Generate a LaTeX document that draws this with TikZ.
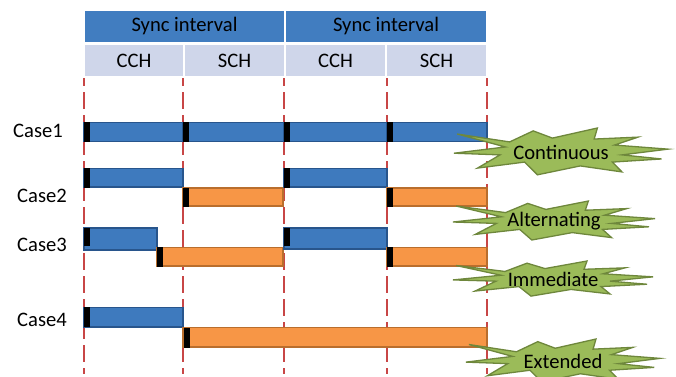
\documentclass[tikz,border=0pt]{standalone}
\usepackage{fontspec}
\setmainfont{Carlito}
\definecolor{hdrblue}{RGB}{65,125,192}
\definecolor{hdrlight}{RGB}{207,214,234}
\definecolor{barblue}{RGB}{62,122,190}
\definecolor{barblueedge}{RGB}{40,85,140}
\definecolor{barorange}{RGB}{247,150,70}
\definecolor{barorangeedge}{RGB}{185,110,45}
\definecolor{dashred}{RGB}{200,70,70}
\definecolor{stargreen}{RGB}{155,187,89}
\definecolor{staredge}{RGB}{110,135,60}
\newcommand{\myexplosion}[6]{%
  \begin{scope}[shift={(#1,#2)}]
    \draw[starshape] (-0.97*#3,-0.75*#4) -- (-0.48*#3,-0.42*#4) -- (-0.26*#3,-0.88*#4) -- (-0.08*#3,-0.58*#4)
      -- (0.34*#3,-1.0*#4) -- (0.31*#3,-0.54*#4) -- (0.72*#3,-0.62*#4) -- (0.50*#3,-0.29*#4)
      -- (1.0*#3,-0.12*#4) -- (0.57*#3,0.12*#4) -- (0.94*#3,0.29*#4) -- (0.48*#3,0.42*#4)
      -- (0.57*#3,0.83*#4) -- (0.18*#3,0.58*#4) -- (-0.22*#3,0.95*#4) -- (-0.34*#3,0.42*#4)
      -- (-0.78*#3,0.67*#4) -- (-0.57*#3,0.12*#4) -- (-1.0*#3,0.05*#4) -- (-0.52*#3,-0.21*#4) -- cycle;
    \node[txt] (#5) at (0,0) {#6};
  \end{scope}}
\begin{document}
\begin{tikzpicture}[x=1pt,y=-1pt,
  txt/.style={font=\fontsize{20.6}{24}\selectfont, inner sep=0pt},
  hdrcell/.style={fill=hdrblue, draw=white, line width=1.5pt},
  subcell/.style={fill=hdrlight, draw=white, line width=1.5pt},
  bluebar/.style={fill=barblue, draw=barblueedge, line width=1.5pt},
  orangebar/.style={fill=barorange, draw=barorangeedge, line width=1.5pt},
  marker/.style={fill=black},
  slotline/.style={draw=dashred, line width=2pt, dash pattern=on 17pt off 6pt},
  starshape/.style={fill=stargreen, draw=staredge, line width=1.3pt, line join=miter}]
\useasboundingbox (0,0) rectangle (676,376);
% dashed slot lines
\foreach \xx in {84,183,284,387,487}{
  \draw[slotline] (\xx,46) -- (\xx,374);
}
% header
\draw[hdrcell] (84,10) rectangle (285,43);
\draw[hdrcell] (285,10) rectangle (487,43);
\node[txt, text=black] (sync1) at (184.5,26) {Sync interval};
\node[txt, text=black] (sync2) at (386,26) {Sync interval};
\draw[subcell] (84,44) rectangle (184,77);
\draw[subcell] (184,44) rectangle (285,77);
\draw[subcell] (285,44) rectangle (386,77);
\draw[subcell] (386,44) rectangle (487,77);
\node[txt] (cch1) at (134,61) {CCH};
\node[txt] (sch1) at (234.5,61) {SCH};
\node[txt] (cch2) at (335.5,61) {CCH};
\node[txt] (sch2) at (436.5,61) {SCH};
% Case1
\node[txt, anchor=west] (case1) at (13,131) {Case1};
\draw[bluebar] (84,122.5) rectangle (183,141.5);
\draw[bluebar] (183,122.5) rectangle (284,141.5);
\draw[bluebar] (284,122.5) rectangle (387,141.5);
\draw[bluebar] (387,122.5) rectangle (487,141.5);
\foreach \xx in {84,183,284,387}{ \fill[marker] (\xx,122) rectangle (\xx+5.5,142); }
% Case2
\node[txt, anchor=west] (case2) at (17,196) {Case2};
\draw[bluebar] (84,168.5) rectangle (183,187);
\draw[orangebar] (183,188) rectangle (283,206);
\draw[bluebar] (284,168.5) rectangle (387,187);
\draw[orangebar] (387,188) rectangle (487,206);
\foreach \xx/\ya/\yb in {84/168/187.5,183/187.5/206.5,284/168/187.5,387/187.5/206.5}{ \fill[marker] (\xx,\ya) rectangle (\xx+5.5,\yb); }
% Case3
\node[txt, anchor=west] (case3) at (17,245) {Case3};
\draw[bluebar] (84,228) rectangle (157,250);
\draw[orangebar] (157,247.5) rectangle (283,266);
\draw[bluebar] (284,228) rectangle (387,249);
\draw[orangebar] (387,247.5) rectangle (487,266);
\foreach \xx/\ya/\yb in {84/227.5/246,157/247/266.5,284/227.5/246,387/247/266.5}{ \fill[marker] (\xx,\ya) rectangle (\xx+5.5,\yb); }
% Case4
\node[txt, anchor=west] (case4) at (17,320) {Case4};
\draw[bluebar] (84,307.5) rectangle (183,327);
\draw[orangebar] (183,327.5) rectangle (487,347);
\fill[marker] (84,307) rectangle (89.5,327);
\fill[marker] (184,328) rectangle (189.5,347.5);
% explosions
\myexplosion{561}{152}{107}{24}{cont}{Continuous}
\myexplosion{554}{221}{101}{20}{alt}{Alternating}
\myexplosion{553}{279}{100}{18}{imm}{Immediate}
\myexplosion{563}{361}{97}{22}{ext}{Extended}
\end{tikzpicture}
\end{document}
